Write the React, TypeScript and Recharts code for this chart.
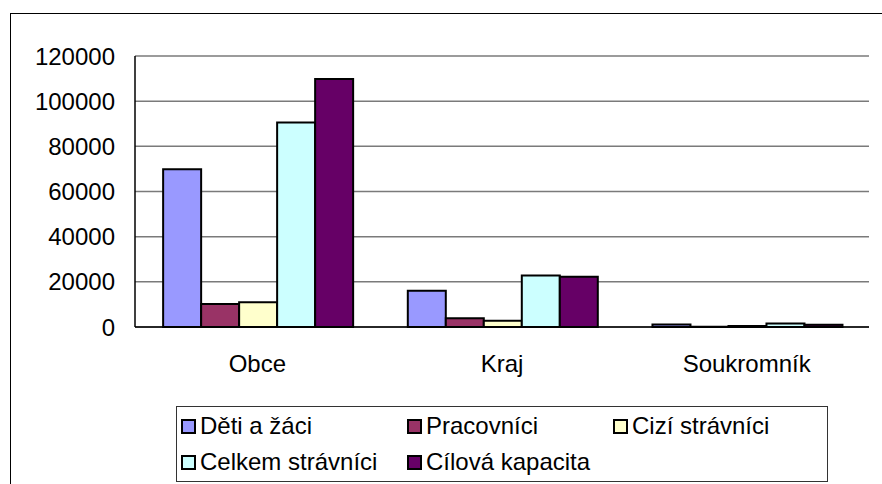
import { BarChart, Bar, XAxis, YAxis, CartesianGrid } from "recharts";

const categories = ["Obce", "Kraj", "Soukromník"];

const detiAZaci = [69800, 16000, 1100];
const pracovnici = [10200, 3900, 150];
const ciziStravnici = [11000, 2800, 400];
const celkemStravnici = [90500, 22800, 1600];
const cilovaKapacita = [109800, 22200, 1000];

const yTicks = [0, 20000, 40000, 60000, 80000, 100000, 120000];

const series = [
  { key: "deti", name: "Děti a žáci", values: detiAZaci, color: "#9999FF" },
  { key: "prac", name: "Pracovníci", values: pracovnici, color: "#993366" },
  { key: "cizi", name: "Cizí strávníci", values: ciziStravnici, color: "#FFFFCC" },
  { key: "celkem", name: "Celkem strávníci", values: celkemStravnici, color: "#CCFFFF" },
  { key: "cilova", name: "Cílová kapacita", values: cilovaKapacita, color: "#660066" },
];

const chartData = categories.map((cat, i) => {
  const row: Record<string, string | number> = { cat };
  series.forEach((s) => {
    row[s.key] = s.values[i];
  });
  return row;
});

const FONT = "'Liberation Sans', Arial, sans-serif";

// legend item positions (left of icon), two rows like the excel original
const legendCols = [4, 230, 436];

export default function App() {
  return (
    <div
      style={{
        position: "absolute",
        left: 0,
        top: 0,
        width: 882,
        height: 484,
        overflow: "hidden",
        background: "#fff",
        fontFamily: FONT,
      }}
    >
      {/* outer chart frame, runs off the right and bottom edge */}
      <div
        style={{
          position: "absolute",
          left: 10,
          top: 13,
          width: 900,
          height: 520,
          border: "1px solid #000",
        }}
      />
      <div style={{ position: "absolute", left: 0, top: 0 }}>
        <BarChart
          width={882}
          height={484}
          data={chartData}
          margin={{ top: 56, right: 13, left: 10, bottom: 117 }}
          barGap={0}
          barCategoryGap="11.5%"
        >
          <CartesianGrid vertical={false} stroke="#7a7a7a" strokeWidth={1.5} />
          <XAxis
            dataKey="cat"
            height={40}
            axisLine={{ stroke: "#000", strokeWidth: 1.5 }}
            tickLine={false}
            tickMargin={22}
            tick={{ fill: "#000", fontSize: 24, fontFamily: FONT }}
          />
          <YAxis
            width={125}
            domain={[0, 120000]}
            ticks={yTicks}
            interval={0}
            axisLine={{ stroke: "#000", strokeWidth: 1.5 }}
            tickLine={false}
            tickMargin={14}
            tick={{ fill: "#000", fontSize: 24, fontFamily: FONT }}
          />
          {series.map((s) => (
            <Bar
              key={s.key}
              dataKey={s.key}
              name={s.name}
              fill={s.color}
              stroke="#000"
              strokeWidth={2}
              isAnimationActive={false}
            />
          ))}
        </BarChart>
      </div>
      {/* legend box */}
      <div
        style={{
          position: "absolute",
          left: 176,
          top: 406,
          width: 650,
          height: 74,
          border: "1px solid #333",
        }}
      >
        {series.map((s, i) => {
          const row = i < 3 ? 0 : 1;
          const col = i < 3 ? i : i - 3;
          return (
            <div
              key={s.key}
              style={{
                position: "absolute",
                left: legendCols[col],
                top: row === 0 ? 7 : 43,
                height: 24,
                display: "flex",
                alignItems: "center",
                whiteSpace: "nowrap",
                fontSize: 24,
                color: "#000",
              }}
            >
              <span
                style={{
                  display: "inline-block",
                  width: 11,
                  height: 11,
                  background: s.color,
                  border: "2px solid #000",
                  marginRight: 4,
                }}
              />
              {s.name}
            </div>
          );
        })}
      </div>
    </div>
  );
}
